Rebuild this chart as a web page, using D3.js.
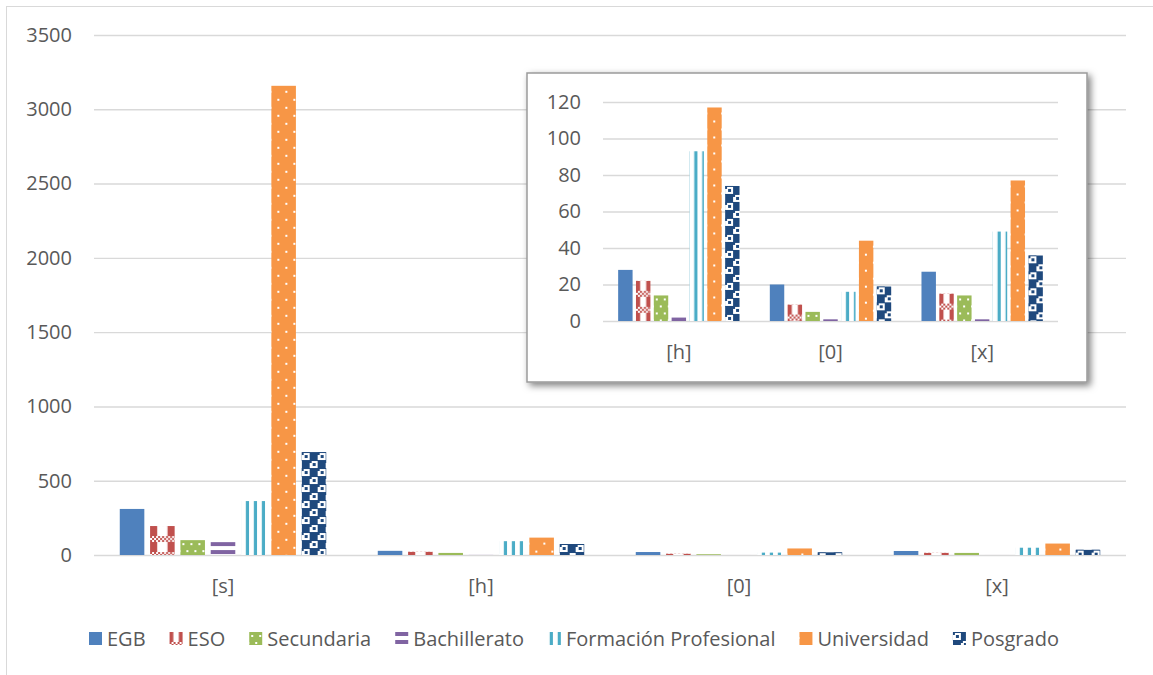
<!DOCTYPE html>
<html>
<head>
<meta charset="utf-8">
<script src="https://cdn.jsdelivr.net/npm/d3@7"></script>
<style>
  body { margin: 0; background: #fff; }
  svg { display: block; font-family: "Open Sans", sans-serif; }
</style>
</head>
<body>
<svg id="chart" width="1153" height="675"></svg>
<script>
// ---- data ----
const categories = ["[s]", "[h]", "[0]", "[x]"];
const insetCategories = ["[h]", "[0]", "[x]"];
const seriesNames = ["EGB", "ESO", "Secundaria", "Bachillerato", "Formación Profesional", "Universidad", "Posgrado"];
const egbValues = [310, 28, 20, 27];
const esoValues = [195, 22, 9, 15];
const secundariaValues = [100, 14, 5, 14];
const bachilleratoValues = [87, 2, 1, 1];
const fpValues = [363, 93, 16, 49];
const universidadValues = [3158, 117, 44, 77];
const posgradoValues = [693, 74, 19, 36];
const mainTicks = [0, 500, 1000, 1500, 2000, 2500, 3000, 3500];
const insetTicks = [0, 20, 40, 60, 80, 100, 120];

const seriesColors = ["#4F81BD", "#C0504D", "#9BBB59", "#8064A2", "#4BACC6", "#F79646", "#1F497D"];
const seriesFills = ["solid", "checker", "dots", "hstripe", "vstripe", "sparse", "weave"];

const series = seriesNames.map((name, i) => ({
  name,
  color: seriesColors[i],
  fill: seriesFills[i],
  values: [egbValues, esoValues, secundariaValues, bachilleratoValues, fpValues, universidadValues, posgradoValues][i]
}));

const svg = d3.select("#chart");
const defs = svg.append("defs");
const textColor = "#595959";
const gridColor = "#d9d9d9";
const fontSize = "20px";

// drop shadow for the inset panel
const shadow = defs.append("filter").attr("id", "panelShadow")
  .attr("x", "-5%").attr("y", "-5%").attr("width", "112%").attr("height", "115%");
shadow.append("feDropShadow").attr("dx", 3).attr("dy", 3).attr("stdDeviation", 3.5)
  .attr("flood-color", "#000").attr("flood-opacity", 0.5);

// pattern fill for a single bar, tile origin at the bar's corner
let patternCount = 0;
function patternFill(s, x, y, w, shiftX = 0) {
  if (s.fill === "solid") return s.color;
  const id = "pat" + (patternCount++);
  const p = defs.append("pattern").attr("id", id).attr("patternUnits", "userSpaceOnUse")
    .attr("x", x + shiftX).attr("y", y);
  const c = s.color;
  const sq = (px, py, pw, ph, f) => p.append("rect").attr("x", px).attr("y", py)
    .attr("width", pw).attr("height", ph).attr("fill", f);
  if (s.fill === "checker") {
    p.attr("width", w).attr("height", 16);
    sq(0, 0, w, 16, "#fff");
    const side = w * 0.29;
    sq(0, 0, side, 10, c);
    sq(w - side, 0, side, 10, c);
    for (let r = 0; r < 3; r++) {
      for (let k = 0; k * 2 < w; k++) {
        if ((r + k) % 2 === 0) sq(k * 2, 10 + r * 2, 2, 2, c);
      }
    }
  } else if (s.fill === "dots") {
    p.attr("width", 8).attr("height", 14);
    sq(0, 0, 8, 14, c);
    sq(2, 3, 2, 2, "#fff");
    sq(6, 10, 2, 2, "#fff");
  } else if (s.fill === "hstripe") {
    p.attr("width", 8).attr("height", 8);
    sq(0, 0, 8, 8, "#fff");
    sq(0, 0, 8, 4, c);
  } else if (s.fill === "vstripe") {
    p.attr("width", 8).attr("height", 8);
    sq(0, 0, 8, 8, "#fff");
    sq(4.8, 0, 3.3, 8, c);
  } else if (s.fill === "sparse") {
    p.attr("width", 16).attr("height", 16);
    sq(0, 0, 16, 16, c);
    sq(14, 5, 2, 2, "#fff");
    sq(6, 13, 2, 2, "#fff");
  } else if (s.fill === "weave") {
    p.attr("width", 16).attr("height", 16);
    sq(0, 0, 16, 16, c);
    sq(0, 1, 8, 7, "#fff");
    sq(8, 9, 8, 7, "#fff");
    sq(3, 3, 3, 3, c);
    sq(11, 11, 3, 3, c);
    sq(0, 1, 2, 2, c);
    sq(8, 9, 2, 2, c);
  }
  return "url(#" + id + ")";
}

// clustered column chart into group g
function drawClustered(g, cats, xRange, yScale, ticks) {
  const x0 = d3.scaleBand().domain(cats).range(xRange);
  const x1 = d3.scaleBand().domain(seriesNames).range([0, x0.bandwidth()])
    .paddingInner(0.19).paddingOuter(0.85);

  // value axis with gridlines
  const yAxis = d3.axisLeft(yScale).tickValues(ticks).tickFormat(d3.format("d"))
    .tickSizeInner(-(xRange[1] - xRange[0])).tickSizeOuter(0).tickPadding(22);
  const ya = g.append("g").attr("transform", `translate(${xRange[0]},0)`).call(yAxis);
  ya.select(".domain").remove();
  ya.selectAll(".tick line").attr("stroke", gridColor).attr("stroke-width", 1.4);
  ya.selectAll(".tick text").attr("fill", textColor).style("font-size", fontSize)
    .style("font-family", "'Open Sans', sans-serif");

  // bars
  cats.forEach(cat => {
    const ci = categories.indexOf(cat);
    series.forEach(s => {
      const v = s.values[ci];
      const bx = x0(cat) + x1(s.name);
      const by = yScale(v);
      const bw = x1.bandwidth();
      g.append("rect")
        .attr("x", bx).attr("y", by)
        .attr("width", bw).attr("height", yScale(0) - by)
        .attr("fill", patternFill(s, bx, by, bw));
    });
  });

  // category axis
  const xAxis = d3.axisBottom(x0).tickSize(0).tickPadding(24);
  const xa = g.append("g").attr("transform", `translate(0,${yScale(0)})`).call(xAxis);
  xa.select(".domain").remove();
  xa.selectAll(".tick text").attr("fill", textColor).style("font-size", fontSize)
    .style("font-family", "'Open Sans', sans-serif");
}

// outer chart frame
svg.append("rect").attr("x", 6.5).attr("y", 6.5).attr("width", 1200).attr("height", 700)
  .attr("fill", "#fff").attr("stroke", gridColor).attr("stroke-width", 1);

// main chart
const yMain = d3.scaleLinear().domain([0, 3500]).range([555, 35]);
drawClustered(svg.append("g"), categories, [94, 1126], yMain, mainTicks);

// inset panel
const inset = svg.append("g");
inset.append("rect").attr("x", 527).attr("y", 73).attr("width", 560).attr("height", 309)
  .attr("fill", "#fff").attr("stroke", "#9a9a9a").attr("stroke-width", 1.5)
  .attr("filter", "url(#panelShadow)");
const yInset = d3.scaleLinear().domain([0, 120]).range([321, 102]);
drawClustered(inset.append("g"), insetCategories, [603, 1058], yInset, insetTicks);

// legend
const legend = svg.append("g");
let lx = 89;
series.forEach(s => {
  const item = legend.append("g");
  item.append("rect").attr("x", lx).attr("y", 632).attr("width", 13).attr("height", 13)
    .attr("fill", patternFill(s, lx, 632, 13, s.fill === "vstripe" ? -3 : 0));
  const t = item.append("text").attr("x", lx + 18).attr("y", 646)
    .attr("fill", textColor).style("font-size", fontSize).text(s.name);
  lx += 18 + t.node().getComputedTextLength() + 24;
});
</script>
</body>
</html>
